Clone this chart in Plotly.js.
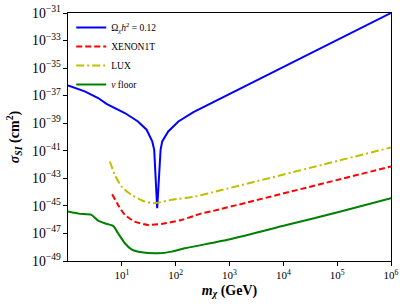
<!DOCTYPE html>
<html>
<head>
<meta charset="utf-8">
<script src="https://cdn.plot.ly/plotly-3.0.1.min.js"></script>
<style>html,body{margin:0;padding:0;background:#fff;}#chart{width:411px;height:308px;}</style>
</head>
<body>
<div id="chart"></div>
<script>
// values, as log10(m / GeV) and log10(sigma / cm^2)
const relicLogM   = [0.00, 0.31, 0.56, 0.715, 1.056, 1.30, 1.46, 1.565, 1.601, 1.657, 1.72, 1.75, 1.862, 2.05, 2.33, 3.57, 6.00];
const relicLogSig = [-36.25, -36.69, -37.17, -37.60, -38.26, -38.87, -39.47, -40.32, -40.93, -45.17, -40.93, -40.32, -39.60, -38.87, -38.20, -35.76, -31.00];

const xenonLogM   = [0.82, 0.93, 1.056, 1.24, 1.49, 1.74, 2.11, 2.455, 2.70, 6.00];
const xenonLogSig = [-44.15, -44.93, -45.65, -46.14, -46.38, -46.31, -46.02, -45.58, -45.36, -42.14];

const luxLogM   = [0.777, 0.87, 0.995, 1.18, 1.43, 1.61, 1.925, 2.36, 2.70, 6.00];
const luxLogSig = [-41.78, -42.75, -43.60, -44.20, -44.69, -44.80, -44.56, -44.32, -44.00, -40.76];

const nuLogM   = [0.00, 0.218, 0.435, 0.56, 0.68, 0.84, 0.93, 1.056, 1.18, 1.37, 1.68, 1.925, 2.17, 3.01, 4.02, 5.01, 6.00];
const nuLogSig = [-45.41, -45.58, -45.65, -46.07, -46.26, -46.45, -46.99, -47.71, -48.15, -48.37, -48.44, -48.32, -48.08, -47.42, -46.43, -45.46, -44.44];

const seriesNames = ['Ω<sub><i>χ</i></sub><i>h</i><sup>2</sup> = 0.12', 'XENON1T', 'LUX', '<i>ν</i> floor'];
const xTickVals = [1e1, 1e2, 1e3, 1e4, 1e5, 1e6];
const xTickText = ['10<sup>1</sup>', '10<sup>2</sup>', '10<sup>3</sup>', '10<sup>4</sup>', '10<sup>5</sup>', '10<sup>6</sup>'];

const pow10 = a => a.map(v => Math.pow(10, v));
const FONT = 'Liberation Serif, DejaVu Serif, serif';

const traces = [
  {x: pow10(relicLogM), y: pow10(relicLogSig), name: seriesNames[0], mode: 'lines',
   line: {color: '#0000ff', width: 2}},
  {x: pow10(xenonLogM), y: pow10(xenonLogSig), name: seriesNames[1], mode: 'lines',
   line: {color: '#ff0000', width: 2, dash: '6px,3px', shape: 'spline', smoothing: 0.6}},
  {x: pow10(luxLogM), y: pow10(luxLogSig), name: seriesNames[2], mode: 'lines',
   line: {color: '#bfbf00', width: 2, dash: '8px,3px,2px,3px', shape: 'spline', smoothing: 0.6}},
  {x: pow10(nuLogM), y: pow10(nuLogSig), name: seriesNames[3], mode: 'lines',
   line: {color: '#008000', width: 2, shape: 'spline', smoothing: 0.5}}
];

const layout = {
  width: 411, height: 308,
  margin: {l: 68, r: 20, t: 13, b: 47},
  paper_bgcolor: '#fff', plot_bgcolor: '#fff',
  font: {family: FONT, color: '#000', size: 11},
  showlegend: true,
  legend: {x: 0.01, y: 1.0, xanchor: 'left', yanchor: 'top', bgcolor: 'rgba(255,255,255,0)',
           borderwidth: 0, font: {family: FONT, size: 9.5}, tracegroupgap: 0, itemwidth: 30},
  xaxis: {type: 'log', range: [0, 6], tickvals: xTickVals, ticktext: xTickText,
          showgrid: false, zeroline: false, ticks: 'outside', ticklen: 4, tickcolor: '#000',
          showline: true, linecolor: '#000', linewidth: 1, mirror: true,
          tickfont: {family: FONT, size: 11},
          title: {text: '<b><i>m</i><sub><i>χ</i></sub> (GeV)</b>', font: {family: FONT, size: 14}, standoff: 4}},
  yaxis: {type: 'log', range: [-49, -31], tick0: -31, dtick: 2, exponentformat: 'power',
          showgrid: false, zeroline: false, ticks: 'outside', ticklen: 4, tickcolor: '#000',
          showline: true, linecolor: '#000', linewidth: 1, mirror: true,
          tickfont: {family: FONT, size: 11},
          title: {text: '<b><i>σ</i><sub><i>SI</i></sub> (cm<sup>2</sup>)</b>', font: {family: FONT, size: 14}, standoff: 9}}
};

Plotly.newPlot('chart', traces, layout, {displayModeBar: false, staticPlot: true});
</script>
</body>
</html>
